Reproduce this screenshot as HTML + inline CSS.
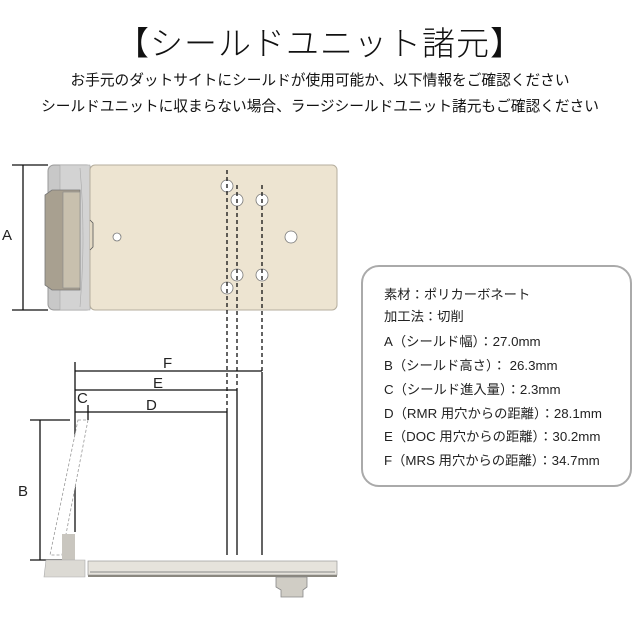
<!DOCTYPE html>
<html><head><meta charset="utf-8"><style>
body{margin:0;width:640px;height:640px;background:#fff;overflow:hidden;font-family:"Liberation Sans","Noto Sans CJK JP",sans-serif;}
.t{position:absolute;left:0;width:640px;text-align:center;color:#111;white-space:nowrap}
.box{position:absolute;left:361px;top:265px;width:267px;height:218px;border:2px solid #aaa;border-radius:18px}
.ln{position:absolute;left:384px;font-size:13.3px;color:#222;white-space:nowrap}
</style></head><body>
<div class="t" style="top:17px;font-size:33px;font-weight:300;letter-spacing:1px">【シールドユニット諸元】</div>
<div class="t" style="top:69px;font-size:14.7px">お手元のダットサイトにシールドが使用可能か、以下情報をご確認ください</div>
<div class="t" style="top:95px;font-size:14.7px">シールドユニットに収まらない場合、ラージシールドユニット諸元もご確認ください</div>
<svg width="640" height="640" style="position:absolute;left:0;top:0">
<g stroke="#111" stroke-width="1.3" fill="none">
<line x1="12" y1="165" x2="48" y2="165"/><line x1="12" y1="310" x2="48" y2="310"/><line x1="23" y1="165" x2="23" y2="310"/>
</g>
<text x="2" y="240" font-size="15" fill="#222" font-family="Liberation Sans">A</text>
<rect x="48" y="165" width="44" height="145" rx="6" fill="#c8c8c8" stroke="#999"/>
<rect x="60" y="165" width="30" height="145" fill="#d3d3d3" stroke="#aaa" stroke-width="0.6"/>
<polygon points="45,195 52,190 80,190 80,290 52,290 45,285" fill="#a8a090" stroke="#777" stroke-width="0.8"/>
<rect x="63" y="192" width="17" height="96" fill="#c8c0ae" stroke="#888" stroke-width="0.6"/>
<path d="M80 168 Q86 237 80 307" stroke="#aaa" fill="none" stroke-width="0.6"/>
<rect x="90" y="165" width="247" height="145" rx="5" fill="#ede4d1" stroke="#b5ae9e"/>
<path d="M90 220 L93 223 L93 247 L90 250" fill="#e3d9c4" stroke="#555" stroke-width="0.8"/>
<g fill="#fff" stroke="#777" stroke-width="0.8">
<circle cx="117" cy="237" r="4"/><circle cx="291" cy="237" r="6"/>
<circle cx="227" cy="186" r="6"/><circle cx="237" cy="200" r="6"/><circle cx="262" cy="200" r="6"/>
<circle cx="237" cy="275" r="6"/><circle cx="262" cy="275" r="6"/><circle cx="227" cy="288" r="6"/>
</g>
<g stroke="#111" stroke-width="1.3" stroke-dasharray="4,3">
<line x1="227" y1="170" x2="227" y2="410"/><line x1="237" y1="185" x2="237" y2="390"/><line x1="262" y1="185" x2="262" y2="372"/>
</g>
<g stroke="#111" stroke-width="1.3" fill="none">
<line x1="227" y1="410" x2="227" y2="555"/><line x1="237" y1="390" x2="237" y2="555"/><line x1="262" y1="372" x2="262" y2="555"/>
<line x1="75" y1="362" x2="75" y2="532"/>
<line x1="75" y1="371" x2="262" y2="371"/><line x1="75" y1="390" x2="237" y2="390"/><line x1="75" y1="412" x2="227" y2="412"/>
<line x1="88" y1="405" x2="88" y2="420"/>
<line x1="30" y1="420" x2="70" y2="420"/><line x1="30" y1="560" x2="75" y2="560"/><line x1="40" y1="420" x2="40" y2="560"/>
</g>
<g font-family="Liberation Sans" font-size="15" fill="#222">
<text x="163" y="368">F</text><text x="153" y="388">E</text><text x="146" y="410">D</text><text x="77" y="403">C</text><text x="18" y="496">B</text>
</g>
<polygon points="78,420 88,420 62,555 50,555" fill="#fff" stroke="#999" stroke-width="0.8" stroke-dasharray="3,2"/>
<rect x="62" y="534" width="13" height="26" fill="#c9c6bf"/>
<polygon points="46,560 85,560 85,577 44,577" fill="#dcdad4" stroke="#aaa" stroke-width="0.6"/>
<rect x="88" y="561" width="249" height="14" fill="#e6e3dc" stroke="#999" stroke-width="0.7"/>
<line x1="90" y1="572" x2="335" y2="572" stroke="#888"/>
<rect x="88" y="575" width="249" height="2" fill="#8a877f"/>
<path d="M276 577 L307 577 L307 587 L303 590 L303 597 L281 597 L281 590 L276 587 Z" fill="#d0cdc5" stroke="#888" stroke-width="0.8"/>
</svg>
<div class="box"></div>
<div class="ln" style="top:284px">素材：ポリカーボネート</div>
<div class="ln" style="top:306px">加工法：切削</div>
<div class="ln" style="top:331px">A（シールド幅）：27.0mm</div>
<div class="ln" style="top:355px">B（シールド高さ）： 26.3mm</div>
<div class="ln" style="top:379px">C（シールド進入量）：2.3mm</div>
<div class="ln" style="top:403px">D（RMR 用穴からの距離）：28.1mm</div>
<div class="ln" style="top:426px">E（DOC 用穴からの距離）：30.2mm</div>
<div class="ln" style="top:450px">F（MRS 用穴からの距離）：34.7mm</div>
</body></html>
